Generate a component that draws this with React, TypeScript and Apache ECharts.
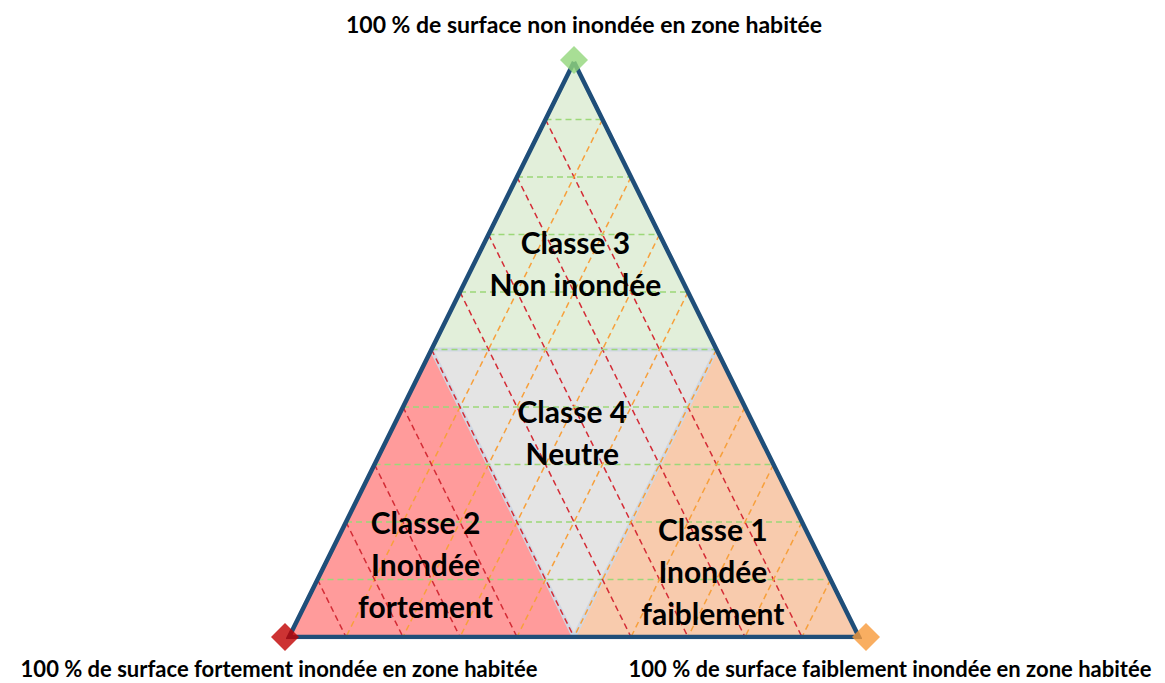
import React, { useEffect, useRef } from "react";
import * as echarts from "echarts";

// Ternary components in % : [non inondée, fortement inondée, faiblement inondée]
const vertexLabels = [
  "100 % de surface non inondée en zone habitée",
  "100 % de surface fortement inondée en zone habitée",
  "100 % de surface faiblement inondée en zone habitée",
];
const vertexTernary = [
  [100, 0, 0],
  [0, 100, 0],
  [0, 0, 100],
];
const gridLevels = [10, 20, 30, 40, 50, 60, 70, 80, 90];

const classTitles = ["Classe 3", "Classe 2", "Classe 1", "Classe 4"];
const classSubtitles = ["Non inondée", "Inondée\nfortement", "Inondée\nfaiblement", "Neutre"];
const classCorners = [
  [[100, 0, 0], [50, 50, 0], [50, 0, 50]],
  [[0, 100, 0], [50, 50, 0], [0, 50, 50]],
  [[0, 0, 100], [50, 0, 50], [0, 50, 50]],
  [[50, 50, 0], [50, 0, 50], [0, 50, 50]],
];
// where each class caption sits (ternary %)
const classLabelAt = [
  [65.1, 17.2, 17.7],
  [12.7, 69.7, 17.6],
  [11.5, 19.9, 68.6],
  [35.6, 32.5, 31.9],
];

// styling
const classFill = ["#e2efda", "#ff9b9b", "#f8cbad", "#e4e4e4"];
const vertexColors = ["#92d67a", "#c00000", "#f89a3a"];
const familyColors = ["#9cd878", "#d42c36", "#f7a03c"]; // N const, F const, f const
const FONT = "Lato, 'Noto Sans', sans-serif";

const toXY = (t: number[]) => [t[2] + t[0] / 2, t[0]];

// grid lines: family 0 = N const (green), 1 = F const (red), 2 = f const (orange)
const gridSegments: number[][] = [];
gridLevels.forEach((k) => {
  const a = toXY([k, 100 - k, 0]);
  const b = toXY([k, 0, 100 - k]);
  gridSegments.push([a[0], a[1], b[0], b[1], 0]);
  const c = toXY([100 - k, k, 0]);
  const d = toXY([0, k, 100 - k]);
  gridSegments.push([c[0], c[1], d[0], d[1], 1]);
  const e = toXY([100 - k, 0, k]);
  const f = toXY([0, 100 - k, k]);
  gridSegments.push([e[0], e[1], f[0], f[1], 2]);
});

export default function App() {
  const ref = useRef<HTMLDivElement>(null);
  useEffect(() => {
    document.body.style.margin = "0";
    const chart = echarts.init(ref.current!, null, { renderer: "svg" });
    const outline = [...vertexTernary, vertexTernary[0]].map(toXY);
    const outerText = (i: number, x: number, y: number, size: number) => ({
      type: "text",
      x,
      y,
      style: {
        text: vertexLabels[i],
        font: `bold ${size}px ${FONT}`,
        fill: "#000",
        align: "center",
        verticalAlign: "middle",
      },
    });
    chart.setOption({
      animation: false,
      backgroundColor: "#ffffff",
      grid: { left: 289, top: 62, width: 570, height: 575 },
      xAxis: { type: "value", min: 0, max: 100, show: false },
      yAxis: { type: "value", min: 0, max: 100, show: false },
      series: [
        {
          type: "custom",
          name: "regions",
          silent: true,
          data: classCorners.map((_, i) => [i]),
          renderItem: (params: any, api: any) => {
            const i = params.dataIndex;
            const pts = classCorners[i].map((c) => api.coord(toXY(c)));
            return {
              type: "polygon",
              shape: { points: pts },
              style: {
                fill: classFill[i],
                stroke: i === 3 ? "#d0d8e3" : "none",
                lineWidth: i === 3 ? 4 : 0,
                lineJoin: "round",
              },
            };
          },
          z: 1,
        },
        {
          type: "custom",
          name: "grid",
          silent: true,
          data: gridSegments,
          renderItem: (params: any, api: any) => {
            const s = gridSegments[params.dataIndex];
            const p1 = api.coord([s[0], s[1]]);
            const p2 = api.coord([s[2], s[3]]);
            return {
              type: "line",
              shape: { x1: p1[0], y1: p1[1], x2: p2[0], y2: p2[1] },
              style: {
                stroke: familyColors[s[4]],
                lineWidth: 1.5,
                lineDash: [6, 4],
              },
            };
          },
          z: 2,
        },
        {
          type: "line",
          name: "outline",
          silent: true,
          data: outline,
          symbol: "none",
          lineStyle: { color: "#1f4e79", width: 4.5, join: "miter" },
          z: 3,
        },
        {
          type: "scatter",
          name: "vertices",
          silent: true,
          symbol: "diamond",
          symbolSize: 28,
          data: vertexTernary.map((t, i) => ({
            value: toXY(t),
            itemStyle: { color: vertexColors[i] },
            symbolOffset: [[0, -2], [-4, 0], [7, 0]][i],
          })),
          z: 4,
        },
        {
          type: "custom",
          name: "captions",
          silent: true,
          data: classTitles.map((_, i) => [i]),
          renderItem: (params: any, api: any) => {
            const i = params.dataIndex;
            const p = api.coord(toXY(classLabelAt[i]));
            return {
              type: "text",
              x: p[0],
              y: p[1],
              style: {
                text: classTitles[i] + "\n" + classSubtitles[i],
                font: `bold 30px ${FONT}`,
                fill: "#000000",
                align: "center",
                verticalAlign: "middle",
                lineHeight: 42,
              },
            };
          },
          z: 5,
        },
      ],
      graphic: [
        outerText(0, 584, 24, 23),
        outerText(1, 279, 668, 22),
        outerText(2, 890, 668, 22),
      ],
    });
    return () => chart.dispose();
  }, []);
  return <div ref={ref} style={{ width: 1165, height: 683 }} />;
}
